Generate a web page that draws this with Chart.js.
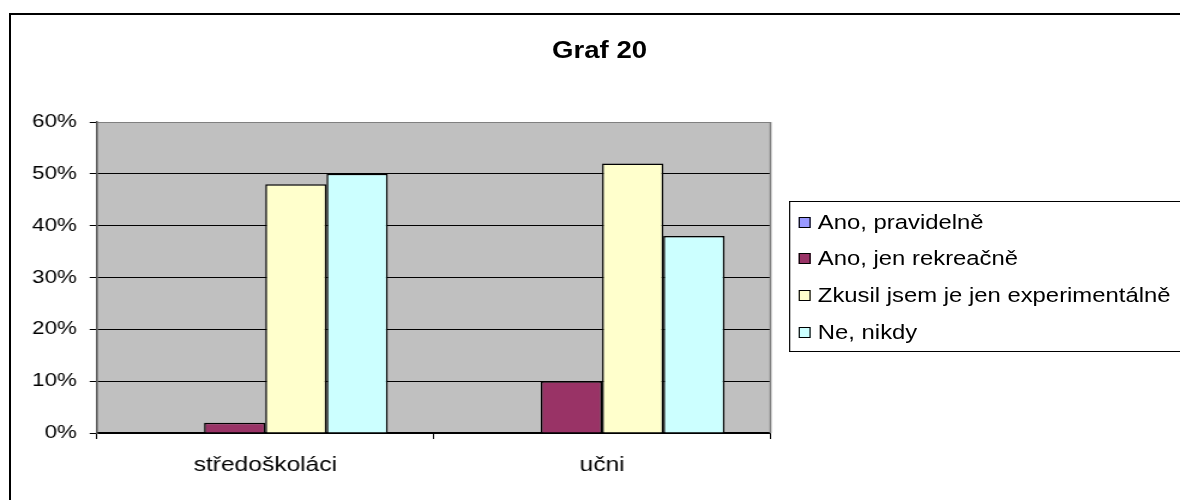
<!DOCTYPE html>
<html>
<head>
<meta charset="utf-8">
<script src="https://cdn.jsdelivr.net/npm/chart.js@4.4.0/dist/chart.umd.min.js"></script>
<style>
  html, body { margin: 0; padding: 0; background: #fff; overflow: hidden; }
  body { width: 1180px; height: 500px; position: relative; font-family: "Liberation Sans", Arial, sans-serif; }
  #frame { position: absolute; left: 9px; top: 13px; width: 1171px; height: 487px; border-top: 2px solid #000; border-left: 2px solid #000; box-sizing: border-box; }
  #wrap { position: absolute; left: 0; top: 0; width: 984px; height: 500px; transform: scaleX(1.1992); transform-origin: 0 0; }
  #title { position: absolute; left: 400px; width: 200px; top: 37px; text-align: center; font-weight: bold; font-size: 23px; color: #000; }
  #legend { position: absolute; left: 658px; top: 201px; width: 340px; height: 151px; border: 1px solid #000; border-right: none; box-sizing: border-box; padding-top: 2px; }
  .row { height: 36.6px; display: flex; align-items: center; padding-left: 7px; font-size: 19.9px; color: #000; white-space: nowrap; }
  .sq { width: 10px; height: 11px; border: 1px solid #000; box-sizing: border-box; margin-right: 6px; }
</style>
</head>
<body>
<div id="frame"></div>
<div id="wrap">
  <canvas id="mycanvas" width="984" height="500"></canvas>
  <div id="title">Graf 20</div>
  <div id="legend"></div>
</div>
<script>
var categories = ['středoškoláci', 'učni'];
var seriesNames = ['Ano, pravidelně', 'Ano, jen rekreačně', 'Zkusil jsem je jen experimentálně', 'Ne, nikdy'];
var anoPravidelne = [0, 0];
var anoRekreacne = [2, 10];
var zkusilExperimentalne = [48, 52];
var neNikdy = [50, 38];
var yTicks = [0, 10, 20, 30, 40, 50, 60];

var colors = ['#9999FF', '#993366', '#FFFFCC', '#CCFFFF'];
var values = [anoPravidelne, anoRekreacne, zkusilExperimentalne, neNikdy];

// legend built from the same arrays
var leg = document.getElementById('legend');
for (var i = 0; i < seriesNames.length; i++) {
    var row = document.createElement('div');
    row.className = 'row';
    var sq = document.createElement('span');
    sq.className = 'sq';
    sq.style.background = colors[i];
    row.appendChild(sq);
    row.appendChild(document.createTextNode(seriesNames[i]));
    leg.appendChild(row);
}

Chart.defaults.font.family = '"Liberation Sans", Arial, sans-serif';
Chart.defaults.color = '#000';

var plotBg = {
    id: 'plotBg',
    beforeDraw: function(chart) {
        var a = chart.chartArea, ctx = chart.ctx;
        ctx.save();
        ctx.fillStyle = '#C0C0C0';
        ctx.fillRect(a.left, a.top, a.right - a.left, a.bottom - a.top);
        ctx.restore();
    },
    afterDatasetsDraw: function(chart) {
        var a = chart.chartArea, ctx = chart.ctx;
        ctx.save();
        ctx.strokeStyle = '#808080';
        ctx.lineWidth = 1.6;
        ctx.beginPath();
        ctx.moveTo(a.right, a.top);
        ctx.lineTo(a.right, a.bottom);
        ctx.stroke();
        ctx.restore();
    }
};

var datasets = [];
for (var j = 0; j < seriesNames.length; j++) {
    datasets.push({
        label: seriesNames[j],
        data: values[j],
        backgroundColor: colors[j],
        borderColor: '#000',
        borderWidth: 1.5,
        categoryPercentage: 4 / 5.5,
        barPercentage: 1
    });
}

var ctx = document.getElementById('mycanvas');
var myChart = new Chart(ctx, {
    type: 'bar',
    data: { labels: categories, datasets: datasets },
    options: {
        responsive: false,
        animation: false,
        layout: { padding: { left: 0, right: 341.5, top: 122, bottom: 0 } },
        plugins: { legend: { display: false }, title: { display: false }, tooltip: { enabled: false } },
        scales: {
            x: {
                grid: { drawOnChartArea: false, drawTicks: true, tickLength: 6, color: '#000', tickColor: '#000', offset: true },
                border: { display: true, color: '#000', width: 1.5 },
                ticks: { font: { size: 20.5 }, padding: 14, color: '#000' },
                afterFit: function(s) { s.height = 67; }
            },
            y: {
                min: 0,
                max: 60,
                afterBuildTicks: function(s) { s.ticks = yTicks.map(function(v) { return { value: v }; }); },
                grid: {
                    color: function(c) { return c.tick && c.tick.value === 60 ? '#808080' : '#000'; },
                    tickColor: '#000',
                    lineWidth: 1,
                    tickLength: 6
                },
                border: { display: true, color: '#555', width: 1.5 },
                ticks: { font: { size: 18.6 }, padding: 10.8, color: '#000', callback: function(v) { return v + '%'; } },
                afterFit: function(s) { s.width = 80.8; }
            }
        }
    },
    plugins: [plotBg]
});
</script>
</body>
</html>
